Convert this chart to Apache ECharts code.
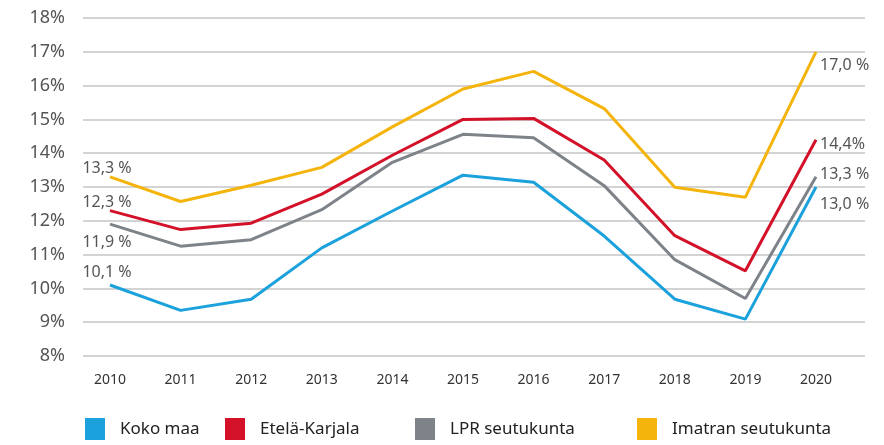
<!DOCTYPE html>
<html>
<head>
<meta charset="utf-8">
<script src="https://cdn.jsdelivr.net/npm/echarts@6/dist/echarts.min.js"></script>
<style>
  #main {width:884px;height:445px;}
  body {margin:0;padding:0;overflow:hidden;background:#fff;}
</style>
</head>
<body>
<div id="main"></div>
<script>
// vuodet
const years = ['2010','2011','2012','2013','2014','2015','2016','2017','2018','2019','2020'];
const seriesNames = ['Koko maa', 'Etelä-Karjala', 'LPR seutukunta', 'Imatran seutukunta'];
const kokoMaa = [10.1, 9.35, 9.68, 11.2, 12.29, 13.35, 13.14, 11.55, 9.68, 9.09, 13.0];
const etelaKarjala = [12.3, 11.74, 11.93, 12.79, 13.94, 15.0, 15.03, 13.8, 11.56, 10.52, 14.4];
const lprSeutukunta = [11.9, 11.25, 11.44, 12.33, 13.73, 14.56, 14.46, 13.04, 10.85, 9.7, 13.3];
const imatranSeutukunta = [13.3, 12.57, 13.05, 13.58, 14.78, 15.9, 16.42, 15.32, 12.99, 12.7, 17.0];
// päätearvojen tekstit
const startLabels = ['10,1 %', '12,3 %', '11,9 %', '13,3 %'];
const endLabels = ['13,0 %', '14,4%', '13,3 %', '17,0 %'];
const yTicks = [8, 9, 10, 11, 12, 13, 14, 15, 16, 17, 18];

const colors = ['#1ba1dc', '#d3122a', '#7e838a', '#f4b40b'];
const allData = [kokoMaa, etelaKarjala, lprSeutukunta, imatranSeutukunta];
// label offsets (start, end)
const startOffsets = [[-3, 0], [-3, 5], [-3, 31], [-3, 5]];
const endOffsets = [[0, 17], [0, 5], [0, -2], [0, 14]];

const myChart = echarts.init(document.getElementById('main'));
const labelFont = {color: '#555', fontSize: 16, fontFamily: 'Noto Sans'};

let series = allData.map(function (arr, i) {
  return {
    name: seriesNames[i],
    type: 'line',
    xAxisIndex: 1,
    yAxisIndex: 1,
    symbol: 'circle',
    symbolSize: 0,
    lineStyle: {width: 3, color: colors[i]},
    itemStyle: {color: colors[i]},
    data: arr.map(function (v, j) {
      if (j === 0) {
        return {value: v, label: Object.assign({show: true, position: 'top', offset: startOffsets[i], formatter: startLabels[i]}, labelFont)};
      }
      if (j === arr.length - 1) {
        return {value: v, label: Object.assign({show: true, position: 'right', distance: 4, offset: endOffsets[i], formatter: endLabels[i]}, labelFont)};
      }
      return v;
    })
  };
});

// separate legends to keep spacing
const legendLefts = [85, 225, 415, 637];
let legends = seriesNames.map(function (n, i) {
  return {
    data: [n],
    left: legendLefts[i],
    top: 418,
    padding: 0,
    icon: 'rect',
    itemWidth: 20,
    itemHeight: 22,
    itemGap: 0,
    textStyle: {fontSize: 17, color: '#222', fontFamily: 'Noto Sans', padding: [4, 0, 0, 10]}
  };
});

let option = {
  animation: false,
  backgroundColor: '#fff',
  legend: legends,
  grid: [
    {left: 83, right: 19, top: 18, bottom: 89},
    {left: 110, right: 68, top: 18, bottom: 89}
  ],
  xAxis: [
    {gridIndex: 0, type: 'value', min: 0, max: 1, show: false},
    {
      gridIndex: 1, type: 'category', data: years, boundaryGap: false,
      axisLine: {show: false}, axisTick: {show: false},
      axisLabel: {color: '#333', fontSize: 14, margin: 17, fontFamily: 'Noto Sans'}
    }
  ],
  yAxis: [
    {
      gridIndex: 0, type: 'value', min: yTicks[0], max: yTicks[yTicks.length - 1], interval: 1,
      axisLine: {show: false}, axisTick: {show: false},
      axisLabel: {color: '#555', fontSize: 18, margin: 18, fontFamily: 'Noto Sans', formatter: '{value}%'},
      splitLine: {show: true, lineStyle: {color: '#c4c4c4', width: 1.5}}
    },
    {gridIndex: 1, type: 'value', min: yTicks[0], max: yTicks[yTicks.length - 1], show: false, splitLine: {show: false}}
  ],
  series: series
};

myChart.setOption(option);
</script>
</body>
</html>
